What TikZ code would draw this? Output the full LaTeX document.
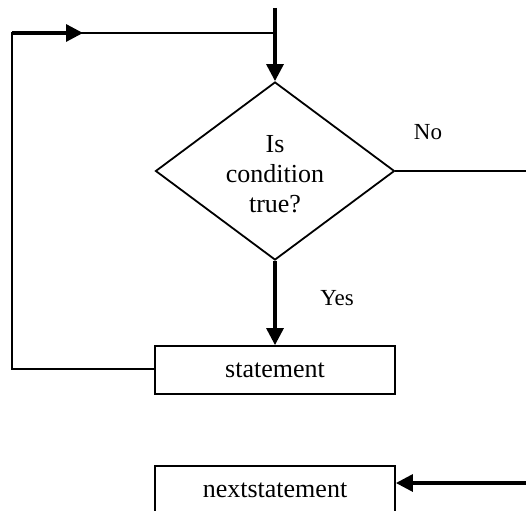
\documentclass[tikz,border=0pt]{standalone}
\usepackage{fontspec}
\setmainfont{Liberation Serif}
\usetikzlibrary{shapes.geometric,arrows.meta}
\begin{document}
\begin{tikzpicture}[x=1pt,y=-1pt,
  thinline/.style={line width=1.8pt},
  thickline/.style={line width=3.2pt},
  tip/.style={-{Triangle[length=17pt,width=17pt]}},
  boxtext/.style={font=\fontsize{26}{30}\selectfont},
  labeltext/.style={font=\fontsize{23}{27}\selectfont},
  stmt/.style={draw,thinline,rectangle,minimum width=240pt,minimum height=48pt,inner sep=0pt,boxtext},
  decision/.style={draw,thinline,diamond,minimum width=239pt,minimum height=178pt,inner sep=0pt}
]
\useasboundingbox (0,0) rectangle (526,510);
\clip (0,0) rectangle (526,510);

% nodes
\node[decision] (cond) at (275,171) {};
\node[boxtext,align=center,inner sep=0pt] (condtext) at (275,174) {Is\\condition\\true?};
\node[stmt] (statement) at (275,370) {statement};
\node[stmt] (next) at (275,490) {nextstatement};

% free ends of connectors
\coordinate (top) at (275,8);
\coordinate (join) at (275,33);
\coordinate (loopup) at (12,33);
\coordinate (loopdown) at (12,369);
\coordinate (looptip) at (83,33);
\coordinate (noend) at (526,171);
\coordinate (nextsrc) at (526,483);

% entry arrow into the decision
\draw[thickline,tip] (top) -- (cond.north);

% loop back from the statement
\draw[thinline] (loopdown -| statement.west) -- (loopdown) -- (loopup) -- (join);
\draw[thickline,tip] (loopup) -- (looptip);

% yes branch
\draw[thickline,tip] (cond.south) -- (statement.north);
\node[labeltext] (yeslabel) at (337,298) {Yes};

% no branch
\draw[thinline] (cond.east) -- (noend);
\node[labeltext] (nolabel) at (428,132) {No};

% arrow into the next statement
\draw[thickline,tip] (nextsrc) -- (nextsrc -| next.east);
\end{tikzpicture}
\end{document}
